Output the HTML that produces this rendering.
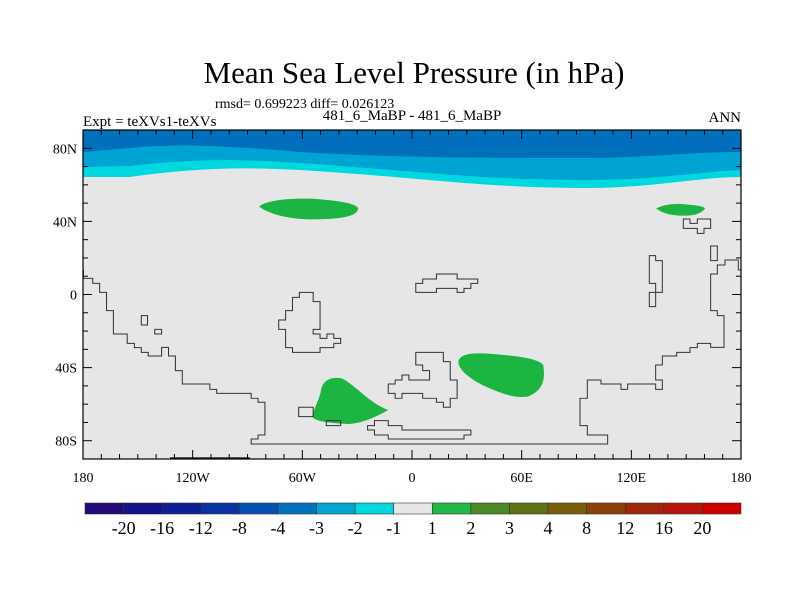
<!DOCTYPE html>
<html><head><meta charset="utf-8"><style>
body{margin:0;background:#fff;}
svg{display:block;font-family:"Liberation Serif",serif;}
</style></head><body>
<svg id="c" width="800" height="600" xmlns="http://www.w3.org/2000/svg">
<text x="414" y="83" font-size="31" text-anchor="middle">Mean Sea Level Pressure (in hPa)</text>
<text x="215" y="108" font-size="14">rmsd= 0.699223 diff= 0.026123</text>
<text x="412" y="120" font-size="15" text-anchor="middle">481_6_MaBP - 481_6_MaBP</text>
<text x="83" y="126" font-size="15">Expt = teXVs1-teXVs</text>
<text x="741" y="122" font-size="15" text-anchor="end">ANN</text>
<g id="map">
<rect x="83" y="130" width="658" height="329" fill="#e6e6e6"/>
<path d="M83,130 H741 V177 C700,177 650,188 590,188 C480,188 430,178 300,170 C230,166 180,170 130,177 L83,177 Z" fill="#00d8e0"/>
<path d="M83,130 H741 V170 C700,172 650,180 590,180 C480,180 430,172 300,163 C230,158 180,160 130,166 L83,167 Z" fill="#00a4d2"/>
<path d="M83,130 H741 V152 C690,152 640,158 590,158 C480,158 400,158 300,152 C230,146 180,143 130,148 L83,152 Z" fill="#0070bc"/>
<g transform="translate(80,190) scale(0.3444,0.3333)">
<path d="M520,50 C540,30 620,22 700,28 C760,34 800,40 808,55 C805,80 760,88 660,88 C600,86 550,72 520,50 Z" fill="#1db542"/>
<path d="M700,600 C705,570 730,560 760,565 C800,585 840,640 895,660 C860,680 820,700 780,702 C730,700 680,695 675,680 C680,650 695,630 700,600 Z" fill="#1db542"/>
<path d="M1100,510 C1110,490 1140,488 1200,492 C1270,498 1330,505 1345,525 C1350,560 1350,600 1300,620 C1260,625 1230,612 1190,595 C1140,575 1090,535 1100,510 Z" fill="#1db542"/>
</g>
<g transform="translate(560,190) scale(0.3333)">
<path d="M288,55 C310,45 340,40 365,42 C400,45 430,48 435,55 C425,70 405,77 370,77 C330,77 305,68 288,55 Z" fill="#1db542"/>
</g>
<g fill="none" stroke="#333" stroke-width="3" transform="translate(80,190) scale(0.3444,0.3333)">
<path d="M10,240 V265 H37 V280 H57 V307 H77 V362 H97 V432 H137 V460 H158 V473 H178 V487 H198 V498 H237 V472 H257 V498 H277 V542 H297 V582 H377 V598 H397 V610 H497 V625 H517 V637 H537 V735 H517 V747 H497 V762 H1530"/>
<path d="M178,377 H196 V405 H178 Z M217,418 H237 V432 H217 Z M635,652 H677 V680 H635 Z M715,692 H757 V707 H715 Z"/>
<path d="M617,487 V473 H597 V418 H577 V390 H597 V362 H617 V322 H637 V307 H677 V335 H697 V418 H677 V432 H697 V445 H717 V432 H737 V445 H757 V460 H737 V473 H697 V487 Z"/>
<path d="M975,307 V280 H995 V267 H1035 V252 H1095 V267 H1155 V280 H1135 V295 H1115 V307 H1095 V295 H1035 V307 Z"/>
<path d="M975,487 H1055 V515 H1075 V570 H1095 V625 H1075 V652 H1055 V637 H1035 V625 H995 V610 H935 V625 H915 V610 H895 V582 H915 V570 H935 V555 H955 V570 H1015 V542 H995 V525 H975 Z"/>
<path d="M855,692 H895 V707 H935 V720 H1135 V735 H1115 V747 H895 V735 H855 V720 H835 V707 H855 Z"/>
</g>
<g fill="none" stroke="#333" stroke-width="3" transform="translate(560,190) scale(0.3333)">
<path d="M140,762 H143 V735 H82 V707 H60 V625 H82 V570 H123 V582 H183 V598 H203 V582 H287 V598 H307 V570 H287 V525 H307 V498 H350 V487 H390 V473 H412 V460 H452 V472 H492 V377 H472 V362 H452 V252 H472 V225 H495 V210 H535 V240 H545"/>
<path d="M370,87 H390 V100 H412 V87 H452 V115 H432 V130 H412 V115 H370 Z M452,168 H472 V212 H452 Z M268,197 H287 V212 H307 V307 H287 V350 H268 V307 H287 V280 H268 Z"/>
</g>
<line x1="170" y1="458" x2="250" y2="458" stroke="#222" stroke-width="1.5"/>
<g id="ticks" stroke="#000" stroke-width="1"></g>
<rect x="83" y="130" width="658" height="329" fill="none" stroke="#000" stroke-width="1.2"/>
</g>
<g id="labels" font-size="14"></g>
<g id="cbar"></g>
</svg>
<script>
const lonTicks=[-180,-120,-60,0,60,120,180];
const lonLabels=["180","120W","60W","0","60E","120E","180"];
const latTicks=[80,40,0,-40,-80];
const latLabels=["80N","40N","0","40S","80S"];
const levels=["-20","-16","-12","-8","-4","-3","-2","-1","1","2","3","4","8","12","16","20"];
const colors=["#220a78","#15128a","#0c1f95","#0a34a2","#0550b0","#0073be","#00a5d3","#00d8e0","#e6e6e6","#1fb944","#4b8a26","#5f7214","#7a5e08","#8c410a","#a0270a","#b5150a","#cc0000"];
const NS="http://www.w3.org/2000/svg";
const X0=83,X1=741,Y0=130,Y1=459;
const xs=lon=>X0+(lon+180)/360*(X1-X0);
const ys=lat=>Y0+(90-lat)/180*(Y1-Y0);
function mk(tag,attrs,parent){const e=document.createElementNS(NS,tag);for(const k in attrs)e.setAttribute(k,attrs[k]);parent.appendChild(e);return e;}
const tk=document.getElementById('ticks'),lb=document.getElementById('labels');
for(let lon=-180;lon<=180;lon+=10){const maj=lon%60===0,L=maj?9:5,x=xs(lon);
 let t=mk('line',{x1:x,x2:x,y1:Y1,y2:Y1-L},tk);
 
 
 t=mk('line',{x1:x,x2:x,y1:Y0,y2:Y0+L},tk);
 
 }
for(let lat=-90;lat<=90;lat+=10){const maj=lat%40===0,L=maj?9:5,y=ys(lat);
 let t=mk('line',{x1:X0,x2:X0+L,y1:y,y2:y},tk);
 
 
 t=mk('line',{x1:X1,x2:X1-L,y1:y,y2:y},tk);
 
 }
lonTicks.forEach((v,i)=>{const t=mk('text',{x:xs(v),y:482,'text-anchor':'middle'},lb);t.textContent=lonLabels[i];
 
 });
latTicks.forEach((v,i)=>{const t=mk('text',{x:77,y:ys(v)+5,'text-anchor':'end'},lb);t.textContent=latLabels[i];
 
 });
const cb=document.getElementById('cbar');const n=colors.length,cx0=85,cx1=741,w=(cx1-cx0)/n;
colors.forEach((c,i)=>{const r=mk('rect',{x:cx0+i*w,y:503,width:w,height:11,fill:c,stroke:'#333','stroke-width':0.6},cb);
 
 });
levels.forEach((s,i)=>{const t=mk('text',{x:cx0+(i+1)*w,y:534,'text-anchor':'middle','font-size':18},cb);t.textContent=s;
 
 });
</script>
</body></html>
